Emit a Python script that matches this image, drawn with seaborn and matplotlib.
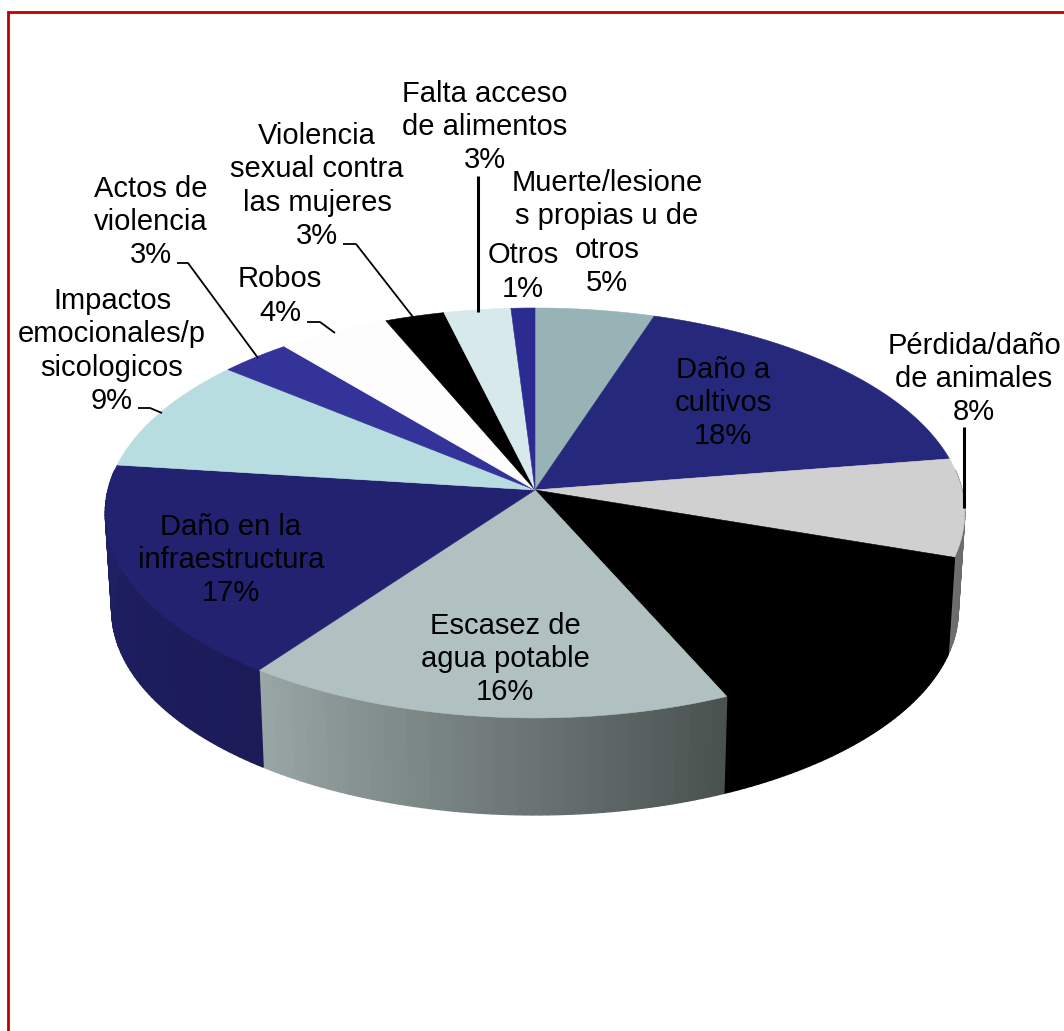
import numpy as np
import matplotlib
matplotlib.use('Agg')
import matplotlib.pyplot as plt
from matplotlib.patches import Polygon
import seaborn as sns

# porciones, en sentido horario desde arriba
nombres = ['Muerte/lesione\ns propias u de\notros', 'Daño a\ncultivos', 'Pérdida/daño\nde animales', '',
           'Escasez de\nagua potable', 'Daño en la\ninfraestructura', 'Impactos\nemocionales/p\nsicologicos',
           'Actos de\nviolencia', 'Robos', 'Violencia\nsexual contra\nlas mujeres',
           'Falta acceso\nde alimentos', 'Otros']
porcentajes = ['5%', '18%', '8%', '', '16%', '17%', '9%', '3%', '4%', '3%', '3%', '1%']
valores = [5.0, 17.5, 7.7, 13.2, 16.6, 17.0, 9.0, 3.0, 4.7, 2.5, 2.8, 1.0]

colores = ['#97b3b5', '#25287b', '#d0d0d0', '#000000', '#b1c1c1', '#222270',
           '#b8dde1', '#333399', '#fdfdfd', '#000000', '#d8e9ec', '#2c2c90']
lados_ini = ['#97b3b5', '#25287b', '#6e6e6e', '#000000', '#98a6a5', '#1f2066',
             '#b8dde1', '#333399', '#fdfdfd', '#000000', '#d8e9ec', '#2c2c90']
lados_fin = ['#97b3b5', '#25287b', '#666666', '#000000', '#4a5250', '#1b1b58',
             '#b8dde1', '#333399', '#fdfdfd', '#000000', '#d8e9ec', '#2c2c90']

# centro de cada etiqueta (x, y) en pixeles
pos_texto = [(607, 233), (723, 403), (974, 379), None, (505, 659), (231, 560),
             (112, 351), (151, 222), (280, 296), (317, 186), (485, 127), (523, 272)]

# lineas guia
guias_finas = [[(177, 263), (188, 263), (258, 358)],
               [(343, 244), (356, 244), (413, 317)],
               [(307, 322), (320, 322), (335, 333)],
               [(138, 408), (150, 408), (162, 413)]]
guias_gruesas = [[(478, 176), (478, 312)],
                 [(964, 427), (964, 508)]]

CX, CY = 535, 490
RX, RY = 427, 202.4
PERSP = 0.112
ALTO = 97
ENCOGE = 0.985


def proyecta(theta, escala=1.0, dy=0):
    x = np.sin(theta)
    y = np.cos(theta)
    d = 1 + PERSP * y
    return CX + escala * RX * x / d, CY - RY * y / d + dy


sns.set_theme(style='white')
plt.rcParams['font.family'] = ['Liberation Sans', 'DejaVu Sans']

fig = plt.figure(figsize=(10.64, 10.31), dpi=100)
ax = fig.add_axes([0, 0, 1, 1])
ax.set_xlim(0, 1064)
ax.set_ylim(1031, 0)
ax.axis('off')

# marco rojo, se corta por la derecha y por abajo
ax.plot([7.5, 7.5, 1070], [1040, 11.5, 11.5], color='#c00000', lw=2.0, solid_joinstyle='miter')

acum = np.concatenate([[0], np.cumsum(valores)]) / np.sum(valores) * 2 * np.pi

# paredes del cilindro
for i in range(len(valores)):
    t0, t1 = acum[i], acum[i + 1]
    if t1 < np.pi / 2 - 0.1 or t0 > 3 * np.pi / 2 + 0.1:
        continue
    t0 = max(t0, np.pi / 2 - 0.1)
    t1 = min(t1, 3 * np.pi / 2 + 0.1)
    n = max(int((t1 - t0) * 60), 2)
    # el gradiente va de izquierda a derecha, theta crece hacia la izquierda
    pal = sns.blend_palette([lados_fin[i], lados_ini[i]], n)
    ts = np.linspace(t0, t1, n + 1)
    for k in range(n):
        xa, ya = proyecta(ts[k])
        xb, yb = proyecta(ts[k + 1])
        xc, yc = proyecta(ts[k + 1], ENCOGE, ALTO)
        xd, yd = proyecta(ts[k], ENCOGE, ALTO)
        ax.add_patch(Polygon([(xa, ya), (xb, yb), (xc, yc), (xd, yd)], closed=True,
                             fc=pal[k], ec=pal[k], lw=1.0))

# tapa superior
for i in range(len(valores)):
    ts = np.linspace(acum[i], acum[i + 1], 80)
    xs, ys = proyecta(ts)
    pts = [(CX, CY)] + list(zip(xs, ys))
    ax.add_patch(Polygon(pts, closed=True, fc=colores[i], ec=colores[i], lw=0.4))

for g in guias_finas:
    ax.plot(*zip(*g), color='black', lw=1.3, solid_capstyle='butt')
for g in guias_gruesas:
    ax.plot(*zip(*g), color='black', lw=2.2, solid_capstyle='butt')

for nom, pct, pos in zip(nombres, porcentajes, pos_texto):
    if pos is None:
        continue
    ax.text(pos[0], pos[1], nom + '\n' + pct, ha='center', va='center', fontsize=21,
            color='black', linespacing=1.23)

fig.savefig('out.png', dpi=100, facecolor='white')
